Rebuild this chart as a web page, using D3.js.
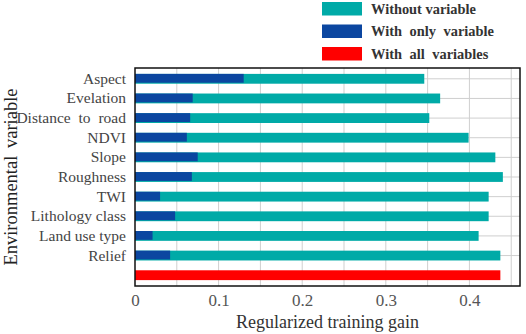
<!DOCTYPE html>
<html>
<head>
<meta charset="utf-8">
<script src="https://cdn.jsdelivr.net/npm/d3@7"></script>
</head>
<body style="margin:0">
<svg id="chart" width="526" height="334"></svg>
<script>
// datos
const variables = ["Aspect", "Evelation", "Distance to road", "NDVI", "Slope", "Roughness",
    "TWI", "Lithology class", "Land use type", "Relief"];
const sinVariable = [0.346, 0.365, 0.352, 0.399, 0.431, 0.440, 0.423, 0.423, 0.411, 0.437];
const soloVariable = [0.130, 0.069, 0.066, 0.062, 0.075, 0.068, 0.030, 0.048, 0.021, 0.042];
const todasVariables = 0.437;
const ticksX = [0, 0.1, 0.2, 0.3, 0.4];
const leyendaTextos = ["Without variable", "With only variable", "With all variables"];

const colores = ["#00aaa7", "#0b46a0", "#ff0000"];
const FUENTE = "Liberation Serif";

const svg = d3.select("#chart");
const margin = { top: 68, right: 6, bottom: 48, left: 135 };
const width = 526, height = 334;

const filas = variables.concat(["__all__"]);

const x = d3.scaleLinear()
    .domain([0, 0.4605])
    .range([margin.left, width - margin.right]);

const y = d3.scaleBand()
    .domain(filas)
    .range([margin.top, height - margin.bottom])
    .paddingInner(0.5)
    .paddingOuter(0.3);

// grid vertical
svg.append("g")
    .selectAll("line")
    .data(d3.range(0.05, 0.46, 0.05))
    .join("line")
    .attr("x1", d => x(d)).attr("x2", d => x(d))
    .attr("y1", margin.top).attr("y2", height - margin.bottom)
    .attr("stroke", "#cfcfcf")
    .attr("stroke-width", 1);

// grid horizontal (a la altura de cada barra)
svg.append("g")
    .selectAll("line")
    .data(variables)
    .join("line")
    .attr("x1", margin.left)
    .attr("x2", width - margin.right)
    .attr("y1", d => y(d) + y.bandwidth() / 2)
    .attr("y2", d => y(d) + y.bandwidth() / 2)
    .attr("stroke", "#cfcfcf")
    .attr("stroke-width", 1);

const data = variables.map((v, i) => ({ label: v, sin: sinVariable[i], solo: soloVariable[i] }));

// barras sin variable
svg.append("g")
    .selectAll("rect")
    .data(data)
    .join("rect")
    .attr("x", x(0))
    .attr("y", d => y(d.label))
    .attr("width", d => x(d.sin) - x(0))
    .attr("height", y.bandwidth())
    .attr("fill", colores[0]);

// barras solo variable
svg.append("g")
    .selectAll("rect")
    .data(data)
    .join("rect")
    .attr("x", x(0))
    .attr("y", d => y(d.label))
    .attr("width", d => x(d.solo) - x(0))
    .attr("height", y.bandwidth() - 1)
    .attr("fill", colores[1]);

// barra todas las variables
svg.append("rect")
    .attr("x", x(0))
    .attr("y", y("__all__"))
    .attr("width", x(todasVariables) - x(0))
    .attr("height", y.bandwidth())
    .attr("fill", colores[2]);

// marco
svg.append("rect")
    .attr("x", margin.left)
    .attr("y", margin.top)
    .attr("width", width - margin.right - margin.left)
    .attr("height", height - margin.bottom - margin.top)
    .attr("fill", "none")
    .attr("stroke", "#111")
    .attr("stroke-width", 1.5);

// eje Y (etiquetas)
const ejeY = svg.append("g")
    .attr("transform", `translate(${margin.left - 6},0)`)
    .call(d3.axisLeft(y).tickSize(0).tickFormat(d => d === "__all__" ? "" : d));
ejeY.attr("font-family", null);
ejeY.select(".domain").remove();
ejeY.selectAll("text")
    .attr("dy", "0.32em")
    .attr("font-family", FUENTE)
    .attr("font-size", 15.5)
    .attr("word-spacing", d => d === "Distance to road" ? 4 : 0)
    .attr("fill", "#444");

// eje X
const ejeX = svg.append("g")
    .attr("transform", `translate(0,${height - margin.bottom})`)
    .call(d3.axisBottom(x).tickValues(ticksX).tickSize(0).tickFormat(d => d === 0 ? "0" : d3.format(".1f")(d)));
ejeX.attr("font-family", null);
ejeX.select(".domain").remove();
ejeX.selectAll("text")
    .attr("y", 8)
    .attr("dy", "0.71em")
    .attr("font-family", FUENTE)
    .attr("font-size", 17)
    .attr("fill", "#555");

// titulos
svg.append("text")
    .attr("x", (margin.left + width - margin.right) / 2)
    .attr("y", 328)
    .attr("text-anchor", "middle")
    .attr("font-family", FUENTE)
    .attr("font-size", 18)
    .attr("fill", "#333")
    .text("Regularized training gain");

svg.append("text")
    .attr("transform", `translate(17,${(margin.top + height - margin.bottom) / 2}) rotate(-90)`)
    .attr("text-anchor", "middle")
    .attr("font-family", FUENTE)
    .attr("font-size", 18.5)
    .attr("word-spacing", 3)
    .attr("fill", "#222")
    .text("Environmental variable");

// leyenda
const leyenda = svg.append("g").attr("transform", "translate(322,2)");
leyendaTextos.forEach((t, i) => {
    leyenda.append("rect")
        .attr("x", 0).attr("y", i * 22.5)
        .attr("width", 40).attr("height", 13.5)
        .attr("fill", colores[i]);
    leyenda.append("text")
        .attr("x", 49).attr("y", i * 22.5 + 11.5)
        .text(t)
        .attr("font-family", FUENTE)
        .attr("font-size", 14.4)
        .attr("font-weight", "bold")
        .attr("word-spacing", i === 0 ? 0 : 4)
        .attr("fill", "#333");
});
</script>
</body>
</html>
